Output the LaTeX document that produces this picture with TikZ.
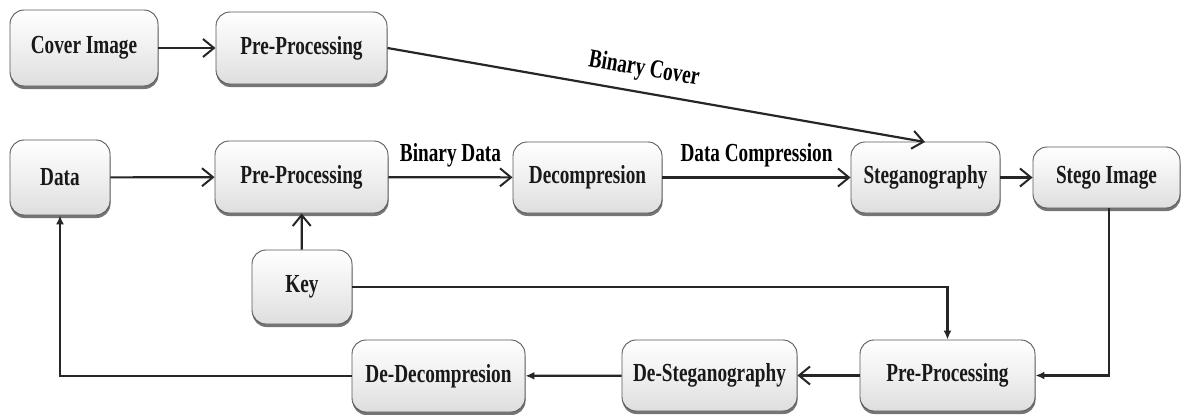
\documentclass[tikz,border=0pt]{standalone}
\usepackage{fontspec}
\newfontfamily\boxfont[FakeStretch=0.74]{Liberation Serif}
\usetikzlibrary{arrows.meta,shadows,calc}
\tikzset{
  block/.style={draw=black!65, line width=0.9pt, rounded corners=14pt,
    top color=white, bottom color=black!13, middle color=black!6,
    drop shadow={shadow xshift=0.5pt, shadow yshift=-3pt, fill=black!60, opacity=0.9},
    font=\boxfont\bfseries\fontsize{26}{28}\selectfont, text=black!90,
    inner sep=0pt, align=center},
  link/.style={line width=2.2pt, draw=black!85},
  openarrow/.style={link, -{Straight Barb[length=11pt, width=18pt, line width=2pt]}},
  filledarrow/.style={link, -{Latex[length=9pt, width=8pt]}},
  lbl/.style={font=\boxfont\bfseries\fontsize{26}{28}\selectfont, text=black, inner sep=0pt}
}
\begin{document}
\begin{tikzpicture}[x=1pt, y=-1pt]
\useasboundingbox (0,0) rectangle (1181,415);

% top row
\node[block, minimum width=148pt, minimum height=76pt] (cover) at (84,48) {Cover Image};
\node[block, minimum width=171pt, minimum height=72pt] (pptop) at (301.5,48) {Pre-Processing};

% middle row
\node[block, minimum width=100pt, minimum height=75pt] (data) at (60,177.5) {Data};
\node[block, minimum width=173pt, minimum height=72pt] (ppmid) at (301.5,177) {Pre-Processing};
\node[block, minimum width=100pt, minimum height=74pt] (key) at (302,287) {Key};
\node[block, minimum width=149pt, minimum height=71pt] (decomp) at (587.5,177.5) {Decompresion};
\node[block, minimum width=149pt, minimum height=71pt] (steg) at (925.5,177.5) {Steganography};
\node[block, minimum width=147pt, minimum height=61pt] (stego) at (1106.5,177.5) {Stego Image};

% bottom row
\node[block, minimum width=175pt, minimum height=71pt] (ppbot) at (947.5,375.5) {Pre-Processing};
\node[block, minimum width=175pt, minimum height=71pt] (destego) at (709.5,375.5) {De-Steganography};
\node[block, minimum width=173pt, minimum height=72pt] (dedecomp) at (438.5,376) {De-Decompresion};

\coordinate (stegtop) at (925,142);
\coordinate (keycorner) at (ppbot.north |- key.east);
\coordinate (stegocorner) at (1109,375.5);
\coordinate (datacorner) at (data.south |- dedecomp.west);

% connectors
\draw[openarrow] (cover) -- (pptop);
\draw[openarrow] (pptop.east) -- node[lbl, sloped, above=10pt, pos=0.47] {Binary Cover} (stegtop);
\draw[openarrow] (data) -- (ppmid);
\draw[openarrow] (ppmid) -- node[lbl, above=9pt] {Binary Data} (decomp);
\draw[openarrow] (decomp) -- node[lbl, above=9pt] {Data Compression} (steg);
\draw[openarrow] (steg) -- (stego);
\draw[openarrow] (key) -- (ppmid);
\draw[filledarrow] (key.east) -- (keycorner) -- (ppbot.north);
\draw[filledarrow] (stego.south -| stegocorner) -- (stegocorner) -- (ppbot.east);
\draw[openarrow] (ppbot) -- (destego);
\draw[filledarrow] (destego) -- (dedecomp);
\draw[filledarrow] (dedecomp.west) -- (datacorner) -- (data.south);
\end{tikzpicture}
\end{document}
